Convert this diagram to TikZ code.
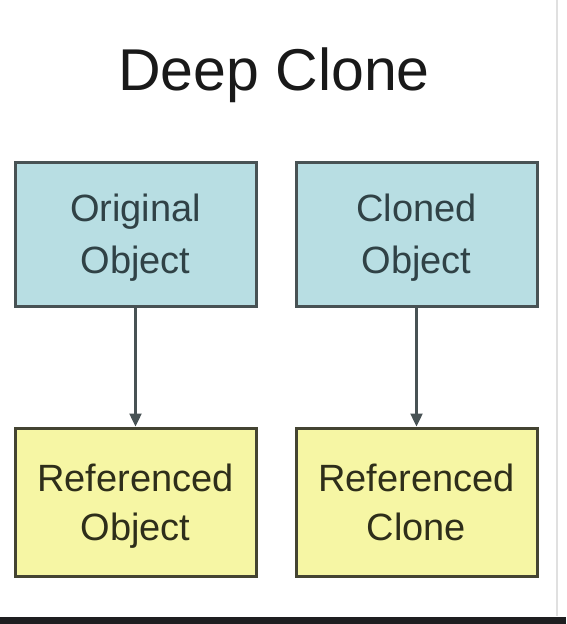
\documentclass[tikz,border=0pt]{standalone}
\usepackage{fontspec}
\setmainfont{Liberation Sans}
\usetikzlibrary{arrows.meta}
\definecolor{bluefill}{RGB}{184,222,227}
\definecolor{yelfill}{RGB}{246,246,164}
\definecolor{blueedge}{RGB}{72,82,84}
\definecolor{yeledge}{RGB}{68,68,50}
\definecolor{bluetext}{RGB}{48,66,70}
\definecolor{yeltext}{RGB}{46,46,26}
\definecolor{barcol}{RGB}{30,30,32}
\tikzset{
  objbox/.style={draw=blueedge, line width=3pt, fill=bluefill, text=bluetext,
    minimum width=241pt, minimum height=144pt, inner sep=0pt, align=center,
    font=\fontsize{38}{52}\selectfont, text height=79pt, text depth=0pt},
  refbox/.style={draw=yeledge, line width=3pt, fill=yelfill, text=yeltext,
    minimum width=241pt, minimum height=148pt, inner sep=0pt, align=center,
    font=\fontsize{38}{49}\selectfont, text height=76pt, text depth=0pt},
  link/.style={draw=blueedge, line width=2.4pt, -{Triangle[width=12pt,length=13pt]}},
  titletext/.style={font=\fontsize{59}{70}\selectfont, text=black!90, anchor=base, inner sep=0pt}
}
\begin{document}
\begin{tikzpicture}[x=1pt,y=-1pt]
\useasboundingbox (0,0) rectangle (566,624);
\fill[white] (0,0) rectangle (566,624);
\draw[black!12, line width=2pt] (557,0) -- (557,616);
\fill[barcol] (0,617) rectangle (566,624);
\node[titletext] (title) at (274,90) {Deep Clone};
\node[objbox] (orig) at (135.5,234) {Original\\Object};
\node[objbox] (clon) at (416.5,234) {Cloned\\Object};
\node[refbox] (refo) at (135.5,502) {Referenced\\Object};
\node[refbox] (refc) at (416.5,502) {Referenced\\Clone};
\draw[link] (orig.south) -- (refo.north);
\draw[link] (clon.south) -- (refc.north);
\end{tikzpicture}
\end{document}
